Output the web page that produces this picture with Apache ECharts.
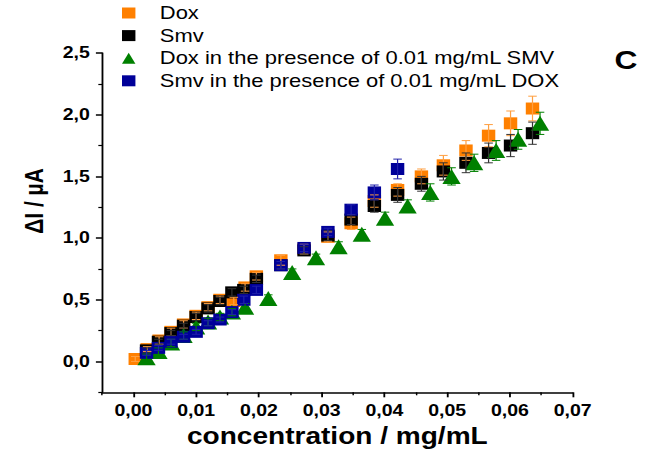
<!DOCTYPE html>
<html><head><meta charset="utf-8">
<script src="https://cdn.jsdelivr.net/npm/echarts@6/dist/echarts.min.js"></script>
<style>
html,body{margin:0;padding:0;background:#fff;overflow:hidden;}
#c{width:532px;height:454px;transform:scaleX(1.22);transform-origin:0 0;}
</style></head>
<body><div id="c"></div>
<script>
// ---- data (concentration in mg/mL, ΔI in µA) ----
const doxX = [0.0003, 0.0022, 0.0041, 0.0060, 0.0080, 0.0100, 0.0119, 0.0138, 0.0160, 0.0178, 0.0196, 0.0235, 0.0272, 0.0310, 0.0347, 0.0384, 0.0421, 0.0459, 0.0494, 0.0530, 0.0566, 0.0601, 0.0636];
const doxY = [0.02, 0.10, 0.17, 0.24, 0.30, 0.37, 0.44, 0.50, 0.49, 0.60, 0.69, 0.82, 0.91, 1.01, 1.12, 1.30, 1.39, 1.50, 1.59, 1.71, 1.83, 1.93, 2.05];
const doxErr = [0.02, 0.02, 0.03, 0.03, 0.03, 0.03, 0.03, 0.03, 0.03, 0.03, 0.03, 0.04, 0.04, 0.04, 0.05, 0.05, 0.05, 0.06, 0.08, 0.08, 0.09, 0.10, 0.10];

const smvX = [0.0021, 0.0040, 0.0060, 0.0080, 0.0100, 0.0119, 0.0138, 0.0157, 0.0176, 0.0196, 0.0235, 0.0272, 0.0310, 0.0347, 0.0384, 0.0421, 0.0459, 0.0494, 0.0530, 0.0566, 0.0601, 0.0636];
const smvY = [0.09, 0.16, 0.23, 0.29, 0.36, 0.43, 0.49, 0.56, 0.58, 0.67, 0.78, 0.90, 1.02, 1.15, 1.26, 1.35, 1.44, 1.54, 1.61, 1.69, 1.75, 1.85];
const smvErr = [0.02, 0.02, 0.02, 0.02, 0.03, 0.03, 0.03, 0.03, 0.03, 0.03, 0.03, 0.03, 0.04, 0.04, 0.05, 0.06, 0.06, 0.07, 0.08, 0.08, 0.09, 0.09];

const doxSmvX = [0.0021, 0.0040, 0.0060, 0.0080, 0.0100, 0.0119, 0.0138, 0.0157, 0.0178, 0.0215, 0.0253, 0.0291, 0.0327, 0.0364, 0.0401, 0.0437, 0.0473, 0.0507, 0.0543, 0.0578, 0.0613, 0.0648];
const doxSmvY = [0.03, 0.08, 0.15, 0.21, 0.28, 0.32, 0.36, 0.40, 0.44, 0.51, 0.72, 0.84, 0.93, 1.03, 1.16, 1.26, 1.37, 1.50, 1.61, 1.71, 1.80, 1.93];
const doxSmvErr = [0.03, 0.03, 0.03, 0.03, 0.03, 0.03, 0.03, 0.03, 0.03, 0.03, 0.03, 0.03, 0.04, 0.04, 0.05, 0.05, 0.07, 0.07, 0.07, 0.08, 0.08, 0.09];

const smvDoxX = [0.0021, 0.0040, 0.0060, 0.0080, 0.0100, 0.0119, 0.0138, 0.0157, 0.0176, 0.0196, 0.0235, 0.0272, 0.0310, 0.0347, 0.0384, 0.0421];
const smvDoxY = [0.07, 0.11, 0.16, 0.20, 0.24, 0.31, 0.34, 0.40, 0.50, 0.58, 0.78, 0.92, 1.05, 1.23, 1.37, 1.56];
const smvDoxErr = [0.02, 0.02, 0.02, 0.02, 0.02, 0.02, 0.02, 0.02, 0.03, 0.03, 0.03, 0.03, 0.03, 0.04, 0.06, 0.08];

const seriesNames = ['Dox', 'Smv', 'Dox in the presence of 0.01 mg/mL SMV', 'Smv in the presence of 0.01 mg/mL DOX'];
const xTicks = [0, 0.01, 0.02, 0.03, 0.04, 0.05, 0.06, 0.07];
const xMinorTicks = [-0.005, 0.005, 0.015, 0.025, 0.035, 0.045, 0.055, 0.065];
const yTicks = [0, 0.5, 1.0, 1.5, 2.0, 2.5];
const yMinorTicks = [-0.25, 0.25, 0.75, 1.25, 1.75, 2.25];
const xTitle = 'concentration / mg/mL';
const yTitle = 'ΔI / µA';
const panelLabel = 'C';

// ---- styling ----
const FONT = '"Liberation Sans", Arial, Helvetica, sans-serif';
const colors = ['#FF8000', '#000000', '#008000', '#000099'];
const barColors = ['#FF9F40', '#333333', '#008000', '#2020AA'];

function pairs(xs, ys) { return xs.map((x, i) => [x, ys[i]]); }
function errData(xs, ys, es) { return xs.map((x, i) => [x, ys[i] - es[i], ys[i] + es[i]]); }
function errRender(color) {
  return function (params, api) {
    const x = api.value(0), lo = api.value(1), hi = api.value(2);
    const a = api.coord([x, lo]), b = api.coord([x, hi]);
    const w = 3.5;
    const st = { stroke: color, lineWidth: 1 };
    return { type: 'group', children: [
      { type: 'line', shape: { x1: a[0], y1: a[1], x2: b[0], y2: b[1] }, style: st },
      { type: 'line', shape: { x1: a[0] - w, y1: a[1], x2: a[0] + w, y2: a[1] }, style: st },
      { type: 'line', shape: { x1: b[0] - w, y1: b[1], x2: b[0] + w, y2: b[1] }, style: st }
    ] };
  };
}
const fmtX = v => v.toFixed(2).replace('.', ',');
const fmtY = v => v.toFixed(1).replace('.', ',');

const xs = [doxX, smvX, doxSmvX, smvDoxX];
const ys = [doxY, smvY, doxSmvY, smvDoxY];
const es = [doxErr, smvErr, doxSmvErr, smvDoxErr];
const symbols = ['rect', 'rect', 'triangle', 'rect'];
const sizes = [[11, 12], [11, 12], [15, 15], [11, 12]];

const series = [];
for (let i = 0; i < 4; i++) {
  series.push({
    name: seriesNames[i], type: 'scatter', data: pairs(xs[i], ys[i]),
    symbol: symbols[i], symbolSize: sizes[i],
    itemStyle: { color: colors[i], opacity: 1 }, z: 2 + i
  });
}
for (let i = 0; i < 4; i++) {
  series.push({
    type: 'custom', data: errData(xs[i], ys[i], es[i]),
    renderItem: errRender(barColors[i]), encode: { x: 0, y: [1, 2] },
    z: 10, silent: true
  });
}

const axisLineStyle = { color: '#000', width: 1.5 };
const chart = echarts.init(document.getElementById('c'), null, { renderer: 'svg' });
chart.setOption({
  animation: false,
  backgroundColor: '#fff',
  grid: { left: 83.6, right: 62.6, top: 53, bottom: 61.7, containLabel: false },
  legend: {
    orient: 'vertical', left: 100, top: 4, padding: 0, itemWidth: 11, itemHeight: 11, itemGap: 4.6,
    data: seriesNames.map((n, i) => ({ name: n, icon: symbols[i] })),
    textStyle: { fontFamily: FONT, fontSize: 18, lineHeight: 18, color: '#000', padding: [0, 0, 0, 15] }
  },
  xAxis: [{
    type: 'value', min: -0.005, max: 0.07, position: 'bottom',
    axisLine: { onZero: false, lineStyle: axisLineStyle },
    axisTick: { customValues: xTicks, length: 5, lineStyle: { color: '#000', width: 1.5 } },
    axisLabel: { customValues: xTicks, formatter: fmtX, margin: 10, fontFamily: FONT, fontWeight: 'bold', fontSize: 16, color: '#000' },
    splitLine: { show: false },
    name: xTitle, nameLocation: 'middle', nameGap: 32,
    nameTextStyle: { fontFamily: FONT, fontWeight: 'bold', fontSize: 23, color: '#000' }
  }, {
    type: 'value', min: -0.005, max: 0.07, position: 'bottom',
    axisLine: { show: false, onZero: false },
    axisTick: { customValues: xMinorTicks, length: 3, lineStyle: { color: '#000', width: 1.2 } },
    axisLabel: { show: false }, splitLine: { show: false }
  }],
  yAxis: [{
    type: 'value', min: -0.25, max: 2.5, position: 'left',
    axisLine: { show: true, onZero: false, lineStyle: axisLineStyle },
    axisTick: { show: true, customValues: yTicks, length: 5, lineStyle: { color: '#000', width: 1.5 } },
    axisLabel: { customValues: yTicks, formatter: fmtY, margin: 10, fontFamily: FONT, fontWeight: 'bold', fontSize: 16, color: '#000' },
    splitLine: { show: false }
  }, {
    type: 'value', min: -0.25, max: 2.5, position: 'left',
    axisLine: { show: false, onZero: false },
    axisTick: { show: true, customValues: yMinorTicks, length: 3, lineStyle: { color: '#000', width: 1.2 } },
    axisLabel: { show: false }, splitLine: { show: false }
  }],
  graphic: [
    { type: 'text', x: 28, y: 201, rotation: Math.PI / 2,
      style: { text: yTitle, font: 'bold 21px ' + FONT, fill: '#000', align: 'center', verticalAlign: 'middle' } },
    { type: 'text', x: 513, y: 60,
      style: { text: panelLabel, font: 'bold 26px ' + FONT, fill: '#000', align: 'center', verticalAlign: 'middle' } }
  ],
  series: series
});
</script></body></html>
